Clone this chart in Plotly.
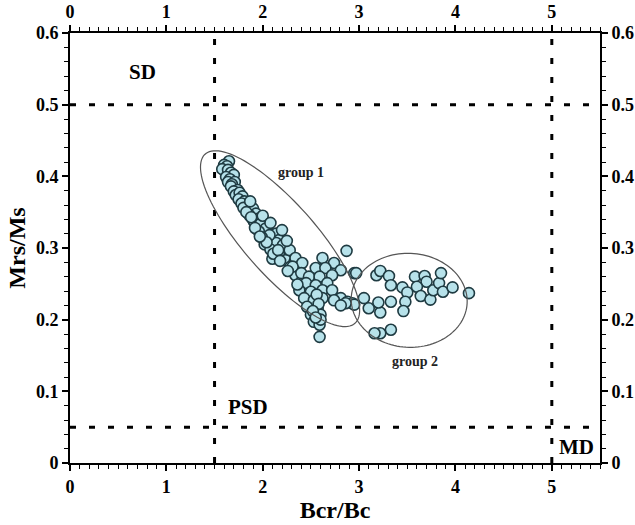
import numpy as np
import plotly.graph_objects as go

# ---- data ----
bcr_bc = [
    1.65, 1.60, 1.63, 1.58, 1.64, 1.67, 1.70, 1.62, 1.66, 1.64, 1.71, 1.68, 1.67, 1.74, 1.70,
    1.72, 1.76, 1.79, 1.75, 1.81, 1.78, 1.86, 1.84, 1.90, 1.80, 1.93, 1.86, 1.96, 1.90, 2.02,
    1.95, 2.05, 2.00, 1.91, 1.98, 2.03, 1.96, 2.09, 2.14, 2.05, 2.17, 2.12, 2.22, 2.19, 2.28,
    2.24, 2.33, 2.29, 2.38, 2.34, 2.41, 2.14, 2.21, 2.28, 2.14, 2.34, 2.41, 2.31, 2.62, 2.74,
    2.55, 2.65, 2.81, 2.40, 2.48, 2.59, 2.72, 2.45, 2.55, 2.67, 2.38, 2.50, 2.62, 2.72, 2.81,
    2.74, 2.88, 2.93, 2.43, 2.53, 2.62, 2.46, 2.57, 2.50, 2.60, 2.53, 2.59, 2.59, 2.95,
    1.87, 2.00, 2.08, 2.02, 2.08, 2.10, 2.20, 2.25, 2.56, 2.58, 2.52, 2.60, 2.55, 1.83, 1.88,
    2.07, 2.11, 2.26, 2.36, 1.99, 2.04, 2.16, 2.18, 1.92, 1.97,
    # group 2
    2.87, 2.97, 3.18, 3.22, 3.31, 3.33, 3.45, 3.50, 3.58, 3.68, 3.70, 3.60, 3.64, 3.74, 3.77,
    3.83, 3.85, 3.87, 3.97, 4.14, 3.48, 3.46, 3.33, 3.22, 3.20, 3.10, 3.05, 2.95, 2.86, 2.81,
    3.33, 3.22, 3.16,
]
mrs_ms = [
    0.421, 0.416, 0.414, 0.410, 0.409, 0.405, 0.402, 0.399, 0.396, 0.392, 0.392, 0.389, 0.386, 0.381, 0.379,
    0.374, 0.377, 0.372, 0.368, 0.365, 0.362, 0.360, 0.353, 0.355, 0.356, 0.348, 0.346, 0.341, 0.339, 0.337,
    0.332, 0.330, 0.325, 0.337, 0.334, 0.327, 0.323, 0.318, 0.320, 0.311, 0.311, 0.302, 0.302, 0.295, 0.290,
    0.283, 0.281, 0.274, 0.269, 0.262, 0.255, 0.307, 0.304, 0.297, 0.293, 0.286, 0.279, 0.274, 0.286, 0.279,
    0.272, 0.272, 0.269, 0.265, 0.260, 0.260, 0.262, 0.251, 0.248, 0.251, 0.241, 0.239, 0.241, 0.241, 0.230,
    0.227, 0.225, 0.223, 0.230, 0.227, 0.230, 0.218, 0.216, 0.207, 0.207, 0.197, 0.193, 0.176, 0.265,
    0.365, 0.345, 0.335, 0.305, 0.298, 0.285, 0.325, 0.310, 0.235, 0.222, 0.212, 0.200, 0.203, 0.350, 0.343,
    0.318, 0.292, 0.268, 0.249, 0.315, 0.308, 0.297, 0.282, 0.328, 0.316,
    # group 2
    0.296, 0.265, 0.262, 0.268, 0.261, 0.248, 0.245, 0.238, 0.260, 0.261, 0.253, 0.246, 0.233, 0.228, 0.241,
    0.251, 0.265, 0.239, 0.245, 0.237, 0.225, 0.212, 0.225, 0.210, 0.224, 0.216, 0.230, 0.221, 0.223, 0.220,
    0.186, 0.181, 0.181,
]

region_labels = ["SD", "PSD", "MD"]
region_x = [0.75, 1.85, 5.26]
region_y = [0.545, 0.078, 0.023]

group_labels = ["group 1", "group 2"]
group_x = [2.40, 3.58]
group_y = [0.406, 0.141]

x_ticks = [0, 1, 2, 3, 4, 5]
y_ticks = [0, 0.1, 0.2, 0.3, 0.4, 0.5, 0.6]
boundary_x = [1.5, 5.0]
boundary_y = [0.5, 0.05]

X_RANGE = [0, 5.5]
Y_RANGE = [0, 0.6]

# layout geometry
W, H = 635, 525
ML, MR, MT, MB = 70, 35, 33, 62
pw = W - ML - MR
ph = H - MT - MB
pxx = pw / (X_RANGE[1] - X_RANGE[0])
pxy = ph / (Y_RANGE[1] - Y_RANGE[0])


def ellipse_path(cx, cy, a_px, b_px, ang_deg, n=120):
    t = np.linspace(0, 2 * np.pi, n)
    th = np.deg2rad(ang_deg)
    dx = a_px * np.cos(t) * np.cos(th) - b_px * np.sin(t) * np.sin(th)
    dy = a_px * np.cos(t) * np.sin(th) + b_px * np.sin(t) * np.cos(th)
    xs = cx + dx / pxx
    ys = cy - dy / pxy
    return "M " + " L ".join(f"{x:.4f},{y:.5f}" for x, y in zip(xs, ys)) + " Z"


FONT = "Liberation Serif"

fig = go.Figure()
fig.add_trace(go.Scatter(
    x=bcr_bc, y=mrs_ms, mode="markers",
    marker=dict(size=11, color="#b7e2ea", line=dict(color="#1f3b42", width=1.6)),
    showlegend=False, hoverinfo="skip"))
# invisible trace on secondary axes so they are drawn
fig.add_trace(go.Scatter(x=[None], y=[None], xaxis="x2", yaxis="y2", showlegend=False))

shapes = []
dash = "6px,13px"
for bx in boundary_x:
    shapes.append(dict(type="line", xref="x", yref="y", x0=bx, x1=bx, y0=Y_RANGE[0], y1=Y_RANGE[1],
                       line=dict(color="black", width=3, dash=dash), layer="below"))
for by in boundary_y:
    shapes.append(dict(type="line", xref="x", yref="y", x0=X_RANGE[0], x1=X_RANGE[1], y0=by, y1=by,
                       line=dict(color="black", width=3, dash=dash), layer="below"))
shapes.append(dict(type="path", xref="x", yref="y", path=ellipse_path(2.18, 0.313, 113, 36, 48.5),
                   line=dict(color="#555555", width=1.2)))
shapes.append(dict(type="path", xref="x", yref="y", path=ellipse_path(3.52, 0.227, 58, 47, 3),
                   line=dict(color="#555555", width=1.2)))

annotations = []
for t, x, y in zip(region_labels, region_x, region_y):
    annotations.append(dict(text=f"<b>{t}</b>", x=x, y=y, xref="x", yref="y", showarrow=False,
                            font=dict(family=FONT, size=21, color="black")))
for t, x, y in zip(group_labels, group_x, group_y):
    annotations.append(dict(text=f"<b>{t}</b>", x=x, y=y, xref="x", yref="y", showarrow=False,
                            font=dict(family=FONT, size=14, color="#222222")))

axis_common = dict(
    showgrid=False, zeroline=False, showline=True, linecolor="black", linewidth=2,
    ticks="outside", ticklen=6, tickwidth=1.5, tickcolor="black", automargin=False,
    tickfont=dict(family=FONT, size=18, color="black"),
)
minor_x = dict(dtick=0.1, ticklen=4, tickwidth=1.2, tickcolor="black", ticks="outside")
minor_y = dict(dtick=0.02, ticklen=4, tickwidth=1.2, tickcolor="black", ticks="outside")

fig.update_layout(
    width=W, height=H, margin=dict(l=ML, r=MR, t=MT, b=MB, autoexpand=False),
    paper_bgcolor="white", plot_bgcolor="white",
    shapes=shapes, annotations=annotations,
    xaxis=dict(range=X_RANGE, tickvals=x_ticks, ticktext=[f"<b>{v}</b>" for v in x_ticks],
               minor=minor_x, title=dict(text="<b>Bcr/Bc</b>", font=dict(family=FONT, size=24, color="black"), standoff=6),
               **axis_common),
    yaxis=dict(range=Y_RANGE, tickvals=y_ticks, ticktext=[f"<b>{v:g}</b>" for v in y_ticks],
               minor=minor_y, title=dict(text="<b>Mrs/Ms</b>", font=dict(family=FONT, size=24, color="black"), standoff=4),
               **axis_common),
    xaxis2=dict(range=X_RANGE, overlaying="x", side="top", anchor="y", tickvals=x_ticks,
                ticktext=[f"<b>{v}</b>" for v in x_ticks], minor=minor_x, **axis_common),
    yaxis2=dict(range=Y_RANGE, overlaying="y", side="right", anchor="x", tickvals=y_ticks,
                ticktext=[f"<b>{v:g}</b>" for v in y_ticks], minor=minor_y, **axis_common),
)

fig.write_html("out.html")
